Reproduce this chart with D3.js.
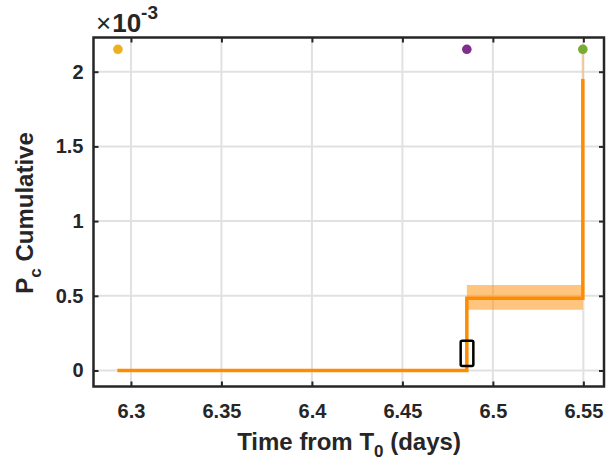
<!DOCTYPE html>
<html>
<head>
<script src="https://cdn.jsdelivr.net/npm/d3@7"></script>
<style>
  body { margin: 0; background: #fff; }
  text { font-family: "Liberation Sans", Arial, sans-serif; font-weight: bold; fill: #262626; }
</style>
</head>
<body>
<svg id="chart" width="616" height="462"></svg>
<script>
// step times (days from T0) and cumulative Pc (x1e-3)
var stepTimes = [6.2925, 6.4856, 6.5497];
var pcValues = [0, 0.484, 1.951];
var bandTimes = [6.4856, 6.5497];
var bandLower = [0.406, 0.406];
var bandUpper = [0.573, 0.573];
var finalBand = [1.951, 2.15];
// conjunction event markers
var eventTimes = [6.2928, 6.4856, 6.5497];
var eventValues = [2.15, 2.15, 2.15];
var eventColors = ["#EDB120", "#7E2F8E", "#77AC30"];
// highlighted box
var boxTimes = [6.4822, 6.4892];
var boxValues = [0.031, 0.2];
var xTicks = [6.3, 6.35, 6.4, 6.45, 6.5, 6.55];
var yTicks = [0, 0.5, 1, 1.5, 2];

var svg = d3.select("#chart");
var L = 93.5, T = 37.5, R = 604, B = 386.5;

var x = d3.scaleLinear().domain([6.2793, 6.5614]).range([L, R]);
var y = d3.scaleLinear().domain([-0.107, 2.229]).range([B, T]);

// grid
svg.append("g").selectAll("line").data(xTicks).enter().append("line")
  .attr("x1", d => x(d)).attr("x2", d => x(d)).attr("y1", T).attr("y2", B)
  .attr("stroke", "#e1e1e1").attr("stroke-width", 2);
svg.append("g").selectAll("line").data(yTicks).enter().append("line")
  .attr("y1", d => y(d)).attr("y2", d => y(d)).attr("x1", L).attr("x2", R)
  .attr("stroke", "#e1e1e1").attr("stroke-width", 2);

// uncertainty band
var band = bandTimes.map((t, i) => ({t: t, lo: bandLower[i], hi: bandUpper[i]}));
svg.append("path").datum(band)
  .attr("d", d3.area().x(d => x(d.t)).y0(d => y(d.lo)).y1(d => y(d.hi)))
  .attr("fill", "#FF8C00").attr("fill-opacity", 0.5);
svg.append("line")
  .attr("x1", x(stepTimes[2])).attr("x2", x(stepTimes[2]))
  .attr("y1", y(finalBand[0])).attr("y2", y(finalBand[1]))
  .attr("stroke", "#FF8C00").attr("stroke-opacity", 0.3).attr("stroke-width", 2.5);

// cumulative step line
var pts = stepTimes.map((t, i) => [t, pcValues[i]]);
svg.append("path").datum(pts)
  .attr("d", d3.line().x(d => x(d[0])).y(d => y(d[1])).curve(d3.curveStepAfter))
  .attr("fill", "none").attr("stroke", "#FF8C00").attr("stroke-width", 3.5);

// highlight box
svg.append("rect")
  .attr("x", x(boxTimes[0])).attr("width", x(boxTimes[1]) - x(boxTimes[0]))
  .attr("y", y(boxValues[1])).attr("height", y(boxValues[0]) - y(boxValues[1]))
  .attr("rx", 1.5).attr("fill", "none").attr("stroke", "#000").attr("stroke-width", 2.5);

// event markers
svg.append("g").selectAll("circle").data(eventTimes).enter().append("circle")
  .attr("cx", d => x(d)).attr("cy", (d, i) => y(eventValues[i])).attr("r", 4.8)
  .attr("fill", (d, i) => eventColors[i]);

// axes with inward ticks on all four sides
var fmt = d3.format("");
svg.append("g").attr("transform", "translate(0," + B + ")")
  .call(d3.axisBottom(x).tickValues(xTicks).tickSizeInner(-5).tickSizeOuter(0).tickPadding(17).tickFormat(fmt))
  .call(g => g.select(".domain").remove());
svg.append("g").attr("transform", "translate(0," + T + ")")
  .call(d3.axisTop(x).tickValues(xTicks).tickSizeInner(-5).tickSizeOuter(0).tickFormat(""))
  .call(g => g.select(".domain").remove());
svg.append("g").attr("transform", "translate(" + L + ",0)")
  .call(d3.axisLeft(y).tickValues(yTicks).tickSizeInner(-5).tickSizeOuter(0).tickPadding(10).tickFormat(fmt))
  .call(g => g.select(".domain").remove());
svg.append("g").attr("transform", "translate(" + R + ",0)")
  .call(d3.axisRight(y).tickValues(yTicks).tickSizeInner(-5).tickSizeOuter(0).tickFormat(""))
  .call(g => g.select(".domain").remove());
svg.selectAll(".tick line").attr("stroke", "#262626").attr("stroke-width", 2);
svg.selectAll(".tick text").style("font-size", "20px").style("font-family", "Liberation Sans, Arial, sans-serif")
  .style("font-weight", "bold").attr("fill", "#262626");

svg.append("rect").attr("x", L).attr("y", T).attr("width", R - L).attr("height", B - T)
  .attr("fill", "none").attr("stroke", "#262626").attr("stroke-width", 2.5);

// exponent label
var ex = svg.append("text").attr("x", 96).attr("y", 32).attr("font-size", 26).style("font-size", "26px");
ex.append("tspan").text("\u00d7").attr("font-weight", "normal").style("font-weight", "normal");
ex.append("tspan").text("10").attr("dx", 1);
ex.append("tspan").text("-3").attr("dy", -13).attr("font-size", 19).style("font-size", "19px");

// axis titles
var xl = svg.append("text").attr("x", 349).attr("y", 450).attr("text-anchor", "middle").style("font-size", "24px");
xl.append("tspan").text("Time from T");
xl.append("tspan").text("0").attr("dy", 7).style("font-size", "17px");
xl.append("tspan").text(" (days)").attr("dy", -7);

var yl = svg.append("text").attr("transform", "translate(33,213) rotate(-90)").attr("text-anchor", "middle").style("font-size", "24px");
yl.append("tspan").text("P");
yl.append("tspan").text("c").attr("dy", 8).style("font-size", "17px");
yl.append("tspan").text(" Cumulative").attr("dy", -8);
</script>
</body>
</html>
